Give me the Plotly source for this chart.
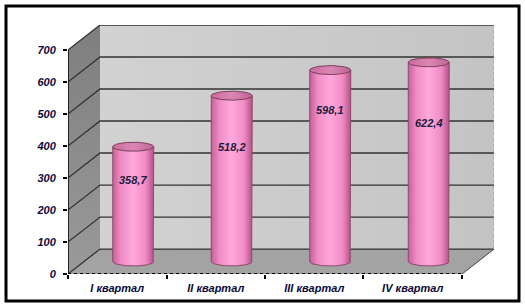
import numpy as np
import plotly.graph_objects as go

# ---- data ----
categories = ["I квартал", "II квартал", "III квартал", "IV квартал"]
values = [358.7, 518.2, 598.1, 622.4]
value_labels = ["358,7", "518,2", "598,1", "622,4"]
label_heights = [255, 358, 473, 433]   # where the value text sits inside each cylinder
y_ticks = [0, 100, 200, 300, 400, 500, 600, 700]

# ---- 3D-look geometry (in axis units) ----
DX, DY = 0.325, 78.0          # depth offset of back wall
YMAX = 700
BASE = DY / 2                 # cylinder floor plane
HW = 0.208                    # cylinder half width
EH = 14.0                     # ellipse half height
FONT = "Liberation Sans, Arial, sans-serif"

fig = go.Figure()

def poly(xs, ys, fill, line=None, width=0, grad=None):
    kw = dict(x=xs, y=ys, mode="lines", fill="toself", fillcolor=fill,
              line=dict(color=line or fill, width=width), hoverinfo="skip",
              showlegend=False)
    if grad is not None:
        kw["fillgradient"] = grad
    fig.add_trace(go.Scatter(**kw))

n = len(categories)
# floor
poly([0, n, n + DX, DX, 0], [0, 0, DY, DY, 0], "#a3a3a3", "#8a8a8a", 1)
# side wall
poly([0, DX, DX, 0, 0], [0, DY, YMAX + DY, YMAX, 0], "#8c8c8c",
     grad=dict(type="vertical", colorscale=[[0, "#9a9a9a"], [1, "#7e7e7e"]]))
# back wall
poly([DX, n + DX, n + DX, DX, DX], [DY, DY, YMAX + DY, YMAX + DY, DY], "#c9c9c9",
     grad=dict(type="horizontal", colorscale=[[0, "#d2d2d2"], [1, "#c4c4c4"]]))

# grid lines: back wall + side wall diagonals
gx, gy = [], []
for v in y_ticks:
    gx += [0, DX, n + DX, None]
    gy += [v, v + DY, v + DY, None]
fig.add_trace(go.Scatter(x=gx, y=gy, mode="lines", line=dict(color="#333333", width=1.3),
                         hoverinfo="skip", showlegend=False))
# right edge of back wall (dotted)
fig.add_trace(go.Scatter(x=[n + DX, n + DX], y=[DY, YMAX + DY], mode="lines",
                         line=dict(color="#999999", width=1, dash="dot"),
                         hoverinfo="skip", showlegend=False))

# cylinders
t_low = np.linspace(0, np.pi, 40)
t_full = np.linspace(0, 2 * np.pi, 80)
for i, v in enumerate(values):
    c = i + 0.5 + DX / 2
    top = BASE + v
    xs = [c - HW, c - HW, c + HW, c + HW] + list(c + HW * np.cos(t_low))
    ys = [BASE, top, top, BASE] + list(BASE - EH * np.sin(t_low))
    poly(xs, ys, "#ff99cc", "#8a4a6a", 1,
         grad=dict(type="horizontal", start=c - HW, stop=c + HW,
                   colorscale=[[0, "#c8609a"], [0.2, "#f08cc4"], [0.5, "#ffa8dc"],
                               [0.8, "#f08cc4"], [1, "#b85088"]]))
    poly(list(c + HW * np.cos(t_full)), list(top + EH * np.sin(t_full)),
         "#d47aa8", "#7a3f5c", 1,
         grad=dict(type="horizontal", start=c - HW, stop=c + HW,
                   colorscale=[[0, "#c86c9c"], [0.5, "#dc86b4"], [1, "#c06494"]]))
    fig.add_annotation(x=c, y=BASE + label_heights[i], text=value_labels[i],
                       showarrow=False,
                       font=dict(family=FONT, size=11, color="#1c1c3c",
                                 weight="bold", style="italic"))

# axis lines
fig.add_trace(go.Scatter(x=[0, 0], y=[0, YMAX], mode="lines",
                         line=dict(color="black", width=1.5),
                         hoverinfo="skip", showlegend=False))
fig.add_trace(go.Scatter(x=[0, n], y=[0, 0], mode="lines",
                         line=dict(color="black", width=2, dash="dot"),
                         hoverinfo="skip", showlegend=False))
fig.add_trace(go.Scatter(x=[n, n + DX], y=[0, DY], mode="lines",
                         line=dict(color="#555555", width=1),
                         hoverinfo="skip", showlegend=False))

W, H = 525, 307
L, R, T, B = 68, 31, 25, 33
pw, ph = W - L - R, H - T - B

fig.update_layout(
    width=W, height=H,
    margin=dict(l=L, r=R, t=T, b=B),
    paper_bgcolor="white", plot_bgcolor="white",
    showlegend=False,
    xaxis=dict(range=[0, n + DX], showgrid=False, zeroline=False, showline=False,
               tickvals=[i + 0.5 for i in range(n)], ticktext=categories,
               ticks="", ticklabelstandoff=6,
               tickfont=dict(family=FONT, size=11, color="#0a0a3a",
                             weight="bold", style="italic"),
               minor=dict(tickvals=list(range(n + 1)), ticks="outside", ticklen=4,
                          tickcolor="black", tickwidth=1.5, showgrid=False),
               fixedrange=True),
    yaxis=dict(range=[0, YMAX + DY], showgrid=False, zeroline=False, showline=False,
               tickvals=y_ticks, ticks="outside", ticklen=4, tickcolor="black",
               tickwidth=1.5, ticklabelstandoff=5,
               tickfont=dict(family=FONT, size=11, color="#0a0a3a",
                             weight="bold", style="italic"),
               fixedrange=True),
)

# outer frame
fig.add_shape(type="rect", xref="paper", yref="paper",
              x0=(6 - L) / pw, x1=(519 - L) / pw,
              y0=(H - B - 301) / ph, y1=(H - B - 6) / ph,
              line=dict(color="black", width=3), layer="above")

fig.write_html("out.html")
